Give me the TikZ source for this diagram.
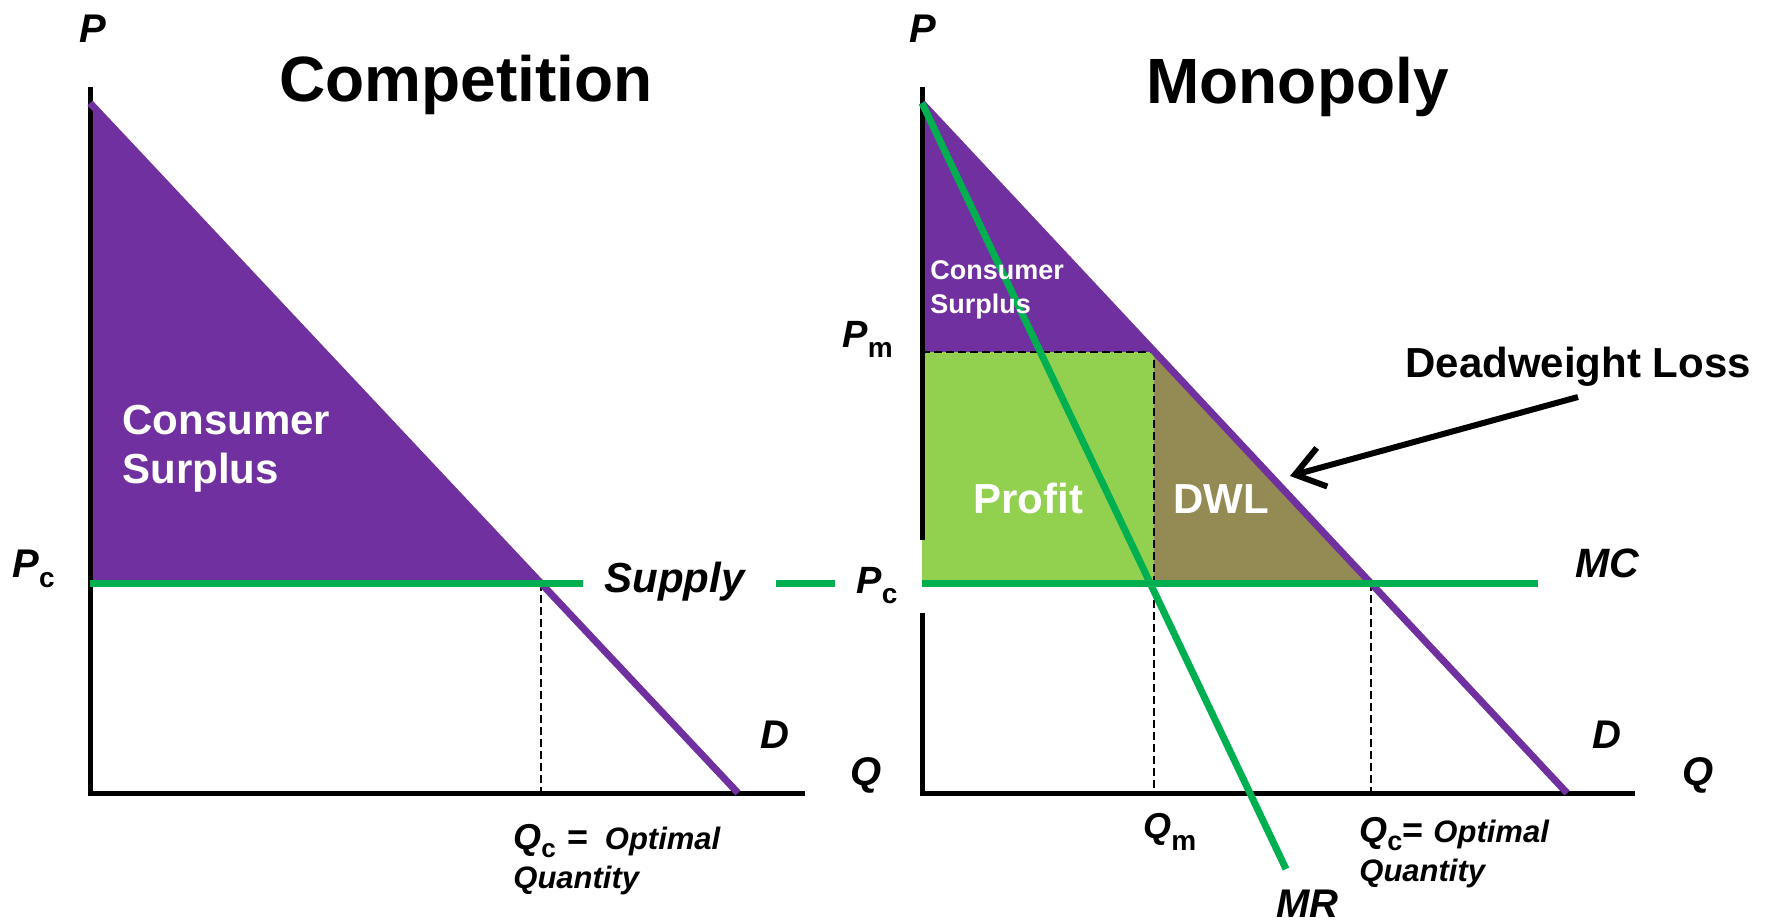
\documentclass[tikz,border=0pt]{standalone}
\usepackage{fontspec}
\setmainfont{Liberation Sans}
\usetikzlibrary{arrows.meta}
\definecolor{cspurple}{HTML}{7030A0}
\definecolor{curvegreen}{HTML}{00B050}
\definecolor{profitgreen}{HTML}{92D050}
\definecolor{dwlolive}{HTML}{948A54}
% lowered upright subscript: drop, size, text
\newcommand\lowsub[3]{\raisebox{-#1}{\fontsize{#2}{#2}\selectfont\bfseries\upshape #3}}
\begin{document}
\begin{tikzpicture}[x=0.5pt,y=-0.5pt,
  axisline/.style={line width=2.5pt,line join=miter},
  demandline/.style={line width=3.5pt,cspurple},
  greenline/.style={line width=3.5pt,curvegreen},
  guide/.style={line width=0.8pt,dash pattern=on 4pt off 2pt},
  lbl/.style={inner sep=0pt,anchor=base west},
  bi/.style={font=\bfseries\itshape\fontsize{#1}{#1}\selectfont},
  bf/.style={font=\bfseries\fontsize{#1}{#1}\selectfont}]
\useasboundingbox (0,0) rectangle (1767,923);

% ---------------- Competition ----------------
\coordinate (cTop) at (90,103);
\coordinate (cEq) at (541,583);
\coordinate (cPc) at (90,583);
\coordinate (cQc) at (541,793);
\coordinate (cDend) at (738,793);
\coordinate (cOrigin) at (90,793);

\fill[cspurple] (cTop) -- (cEq) -- (cPc) -- cycle;
\draw[guide] (cEq) -- (cQc);
\draw[axisline] (90,87) -- (cOrigin) -- (805,793);
\draw[demandline] (cTop) -- (cDend);
\draw[greenline] (cPc) -- (583,583);
\draw[greenline] (776,583) -- (835,583);

\node[lbl,bf=32] (compTitle) at (279,101) {Competition};
\node[lbl,bi=20] (cP) at (79,42) {P};
\node[lbl,bi=20] (cPcLbl) at (12,577) {P\lowsub{5pt}{14}{c}};
\node[lbl,bf=21,white] (cCS1) at (122,434) {Consumer};
\node[lbl,bf=21,white] (cCS2) at (122,483) {Surplus};
\node[lbl,bi=21] (supplyLbl) at (604,592) {Supply};
\node[lbl,bi=20] (cD) at (760,748) {D};
\node[lbl,bi=20] (cQ) at (850,785) {Q};
\node[lbl,bi=18] (cQcLbl) at (513,849)
  {Q\lowsub{4pt}{13}{c}\,\,\fontsize{18}{18}\selectfont\bfseries\upshape=\, \fontsize{15.5}{15.5}\selectfont\bfseries\itshape Optimal};
\node[lbl,bi=15.5] (cQty) at (513,888) {Quantity};

% ---------------- Monopoly ----------------
\coordinate (mTop) at (922,103);
\coordinate (mPm) at (922,352);
\coordinate (mDm) at (1154,352);
\coordinate (mQmPc) at (1154,583);
\coordinate (mPc) at (922,583);
\coordinate (mEq) at (1371,583);
\coordinate (mQm) at (1154,793);
\coordinate (mQc) at (1371,793);
\coordinate (mDend) at (1567,793);
\coordinate (mMRend) at (1286,869);
\coordinate (mOrigin) at (922,793);

\fill[cspurple] (mTop) -- (mDm) -- (mPm) -- cycle;
\fill[profitgreen] (mPm) rectangle (mQmPc);
\fill[dwlolive] (mDm) -- (mQmPc) -- (mEq) -- cycle;
\draw[guide] (mPm) -- (mDm) -- (mQm);
\draw[guide] (mEq) -- (mQc);
\draw[axisline] (922,87) -- (922,540);
\draw[axisline] (922,613) -- (mOrigin) -- (1635,793);
\draw[demandline] (mTop) -- (mDend);
\draw[greenline] (mPc) -- (1538,583);
\draw[greenline] (mTop) -- (mMRend);

\node[lbl,bf=32] (monoTitle) at (1146,103) {Monopoly};
\node[lbl,bi=20] (mP) at (909,42) {P};
\node[lbl,bi=19] (mPmLbl) at (842,347) {P\lowsub{5pt}{14}{m}};
\node[lbl,bi=19] (mPcLbl) at (856,593) {P\lowsub{5pt}{14}{c}};
\node[lbl,bf=13.5,white] (mCS1) at (930,279) {Consumer};
\node[lbl,bf=13.5,white] (mCS2) at (930,313) {Surplus};
\node[lbl,bf=21,white] (profitLbl) at (973,513) {Profit};
\node[lbl,bf=21,white] (dwlLbl) at (1173,513) {DWL};
\node[lbl,bf=21] (dwlNote) at (1405,377) {Deadweight Loss};
\coordinate (arrowStart) at (1578,397);
\coordinate (arrowTip) at (1290,476);
\draw[line width=3pt,-{Straight Barb[length=14pt,width=20pt]}] (arrowStart) -- (arrowTip);
\node[lbl,bi=20.5] (mMC) at (1575,577) {MC};
\node[lbl,bi=20] (mD) at (1592,748) {D};
\node[lbl,bi=20] (mQ) at (1682,785) {Q};
\node[lbl,bi=18] (mQmLbl) at (1143,838) {Q\lowsub{6pt}{14}{m}};
\node[lbl,bi=18] (mQcLbl) at (1359,842)
  {Q\lowsub{4pt}{13.5}{c}\fontsize{18}{18}\selectfont\bfseries\upshape= \fontsize{15.5}{15.5}\selectfont\bfseries\itshape Optimal};
\node[lbl,bi=15.5] (mQty) at (1359,881) {Quantity};
\node[lbl,bi=20] (mMR) at (1276,917) {MR};
\end{tikzpicture}
\end{document}
